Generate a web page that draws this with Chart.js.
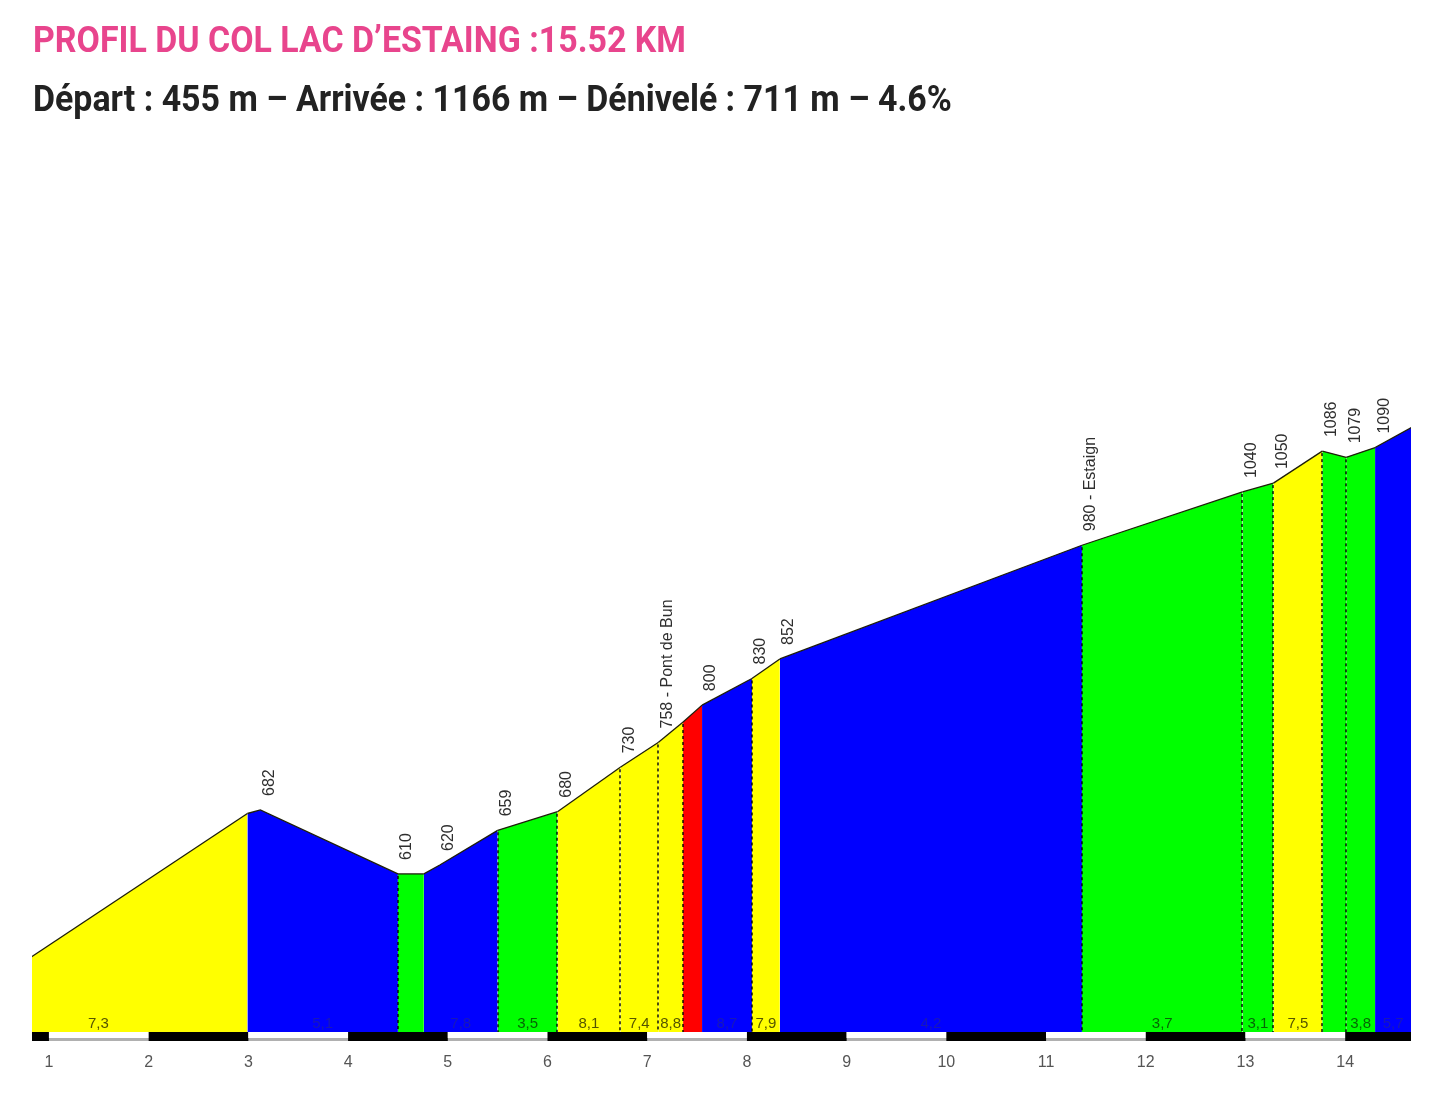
<!DOCTYPE html>
<html>
<head>
<meta charset="utf-8">
<script src="https://cdn.jsdelivr.net/npm/chart.js@4.4.1/dist/chart.umd.min.js"></script>
<style>
  html, body { margin: 0; padding: 0; background: #ffffff; }
  #wrap { position: relative; width: 1434px; height: 1101px; overflow: hidden; }
  .t { position: absolute; left: 33px; margin: 0; font-family: Roboto, "Noto Sans", sans-serif; font-weight: 700; font-size: 34px; line-height: 1; white-space: nowrap; transform-origin: 0 0; transform: scale(0.997, 1.06); }
  #title { top: 21px; color: #e8458d; }
  #sub { top: 80px; color: #222222; }
  canvas { position: absolute; left: 0; top: 0; }
</style>
</head>
<body>
<div id="wrap">
  <canvas id="c" width="1434" height="1101"></canvas>
  <div class="t" id="title">PROFIL DU COL LAC D’ESTAING :15.52 KM</div>
  <div class="t" id="sub">Départ : 455 m – Arrivée : 1166 m – Dénivelé : 711 m – 4.6%</div>
</div>
<script>
// ---- data ----
const kmPoints   = [0, 2.99, 3.12, 4.50, 4.76, 4.92, 5.50, 6.10, 6.73, 7.11, 7.36, 7.55, 8.05, 8.33, 11.36, 12.97, 13.28, 13.77, 14.01, 14.30, 15.52];
const elevPoints = [455, 678, 682, 610, 610, 620, 659, 680, 730, 758, 781, 800, 830, 852, 980, 1040, 1050, 1086, 1079, 1090, 1166];

// segments: start point index, end point index, colour, gradient label
const segStart  = [0, 1, 3, 4, 6, 7, 8, 9, 10, 11, 12, 13, 14, 15, 16, 17, 18, 19];
const segEnd    = [1, 3, 4, 6, 7, 8, 9, 10, 11, 12, 13, 14, 15, 16, 17, 18, 19, 20];
const segColor  = ['yellow','blue','green','blue','green','yellow','yellow','yellow','red','blue','yellow','blue','green','green','yellow','green','green','blue'];
const segGrade  = ['7,3','5,1','','7,8','3,5','8,1','7,4','8,8','','8,7','7,9','4,2','3,7','3,1','7,5','','3,8','5,7'];

// elevation annotations: point index and text
const labelIdx  = [2, 3, 5, 6, 7, 8, 9, 11, 12, 13, 14, 15, 16, 17, 18, 19];
const labelText = ['682','610','620','659','680','730','758 - Pont de Bun','800','830','852','980 - Estaign','1040','1050','1086','1079','1090'];

// dotted separators at these point indices
const dottedIdx = [3, 6, 7, 8, 9, 10, 12, 14, 15, 16, 17, 18];

// axis
const kmTicks = [1, 2, 3, 4, 5, 6, 7, 8, 9, 10, 11, 12, 13, 14];
const xMin = 0.83, xMax = 14.66;
const yMin = 432, yMax = 1425;

// ---- styles ----
const fillColors = { yellow: '#ffff00', blue: '#0000ff', green: '#00ff00', red: '#ff0000' };
const gradeTextColors = { yellow: '#555500', blue: '#1818b8', green: '#056605', red: '#900000' };

const datasets = segStart.map((s, i) => {
  const pts = [];
  for (let k = s; k <= segEnd[i]; k++) pts.push({ x: kmPoints[k], y: elevPoints[k] });
  return {
    data: pts,
    fill: { value: yMin },
    backgroundColor: fillColors[segColor[i]],
    borderColor: '#1e1e0a',
    borderWidth: 1.3,
    pointRadius: 0,
    tension: 0
  };
});

const decor = {
  id: 'decor',
  afterDatasetsDraw(chart) {
    const { ctx, chartArea } = chart;
    const xs = chart.scales.x, ys = chart.scales.y;
    const bottom = chartArea.bottom;

    // dotted separators
    ctx.save();
    ctx.beginPath();
    ctx.rect(chartArea.left, chartArea.top, chartArea.right - chartArea.left, chartArea.bottom - chartArea.top);
    ctx.clip();
    ctx.strokeStyle = 'rgba(0,0,0,0.7)';
    ctx.lineWidth = 2;
    ctx.setLineDash([3, 3]);
    dottedIdx.forEach(k => {
      const px = Math.round(xs.getPixelForValue(kmPoints[k]));
      const py = ys.getPixelForValue(elevPoints[k]);
      ctx.beginPath();
      ctx.moveTo(px, py + 2);
      ctx.lineTo(px, bottom);
      ctx.stroke();
    });
    ctx.setLineDash([]);

    // gradient labels
    ctx.font = '15px "Liberation Sans", Arial, sans-serif';
    ctx.textAlign = 'center';
    ctx.textBaseline = 'alphabetic';
    segStart.forEach((s, i) => {
      if (!segGrade[i]) return;
      const a = kmPoints[s], b = kmPoints[segEnd[i]];
      let mid = (a + b) / 2;
      if (mid > xMax - 0.1 || mid < xMin + 0.1) {
        mid = (Math.max(a, xMin) + Math.min(b, xMax)) / 2;
      }
      ctx.fillStyle = gradeTextColors[segColor[i]];
      ctx.fillText(segGrade[i], xs.getPixelForValue(mid), bottom - 4);
    });
    ctx.restore();

    // elevation labels (rotated)
    ctx.save();
    ctx.font = '16px "Liberation Sans", Arial, sans-serif';
    ctx.fillStyle = '#2e2e2e';
    ctx.textAlign = 'left';
    ctx.textBaseline = 'middle';
    labelIdx.forEach((k, i) => {
      const px = xs.getPixelForValue(kmPoints[k]) + 9;
      const py = ys.getPixelForValue(elevPoints[k]) - 14;
      ctx.save();
      ctx.translate(px, py);
      ctx.rotate(-Math.PI / 2);
      ctx.fillText(labelText[i], 0, 0);
      ctx.restore();
    });
    ctx.restore();

    // km band under the profile
    ctx.save();
    const left = chartArea.left, right = chartArea.right;
    ctx.fillStyle = '#b0b0b0';
    ctx.fillRect(left, bottom + 6, right - left, 3);
    for (let k = Math.floor(xMin); k < xMax; k++) {
      const a = Math.max(k, xMin), b = Math.min(k + 1, xMax);
      const pa = xs.getPixelForValue(a), pb = xs.getPixelForValue(b);
      if (k % 2 === 0) {
        ctx.fillStyle = '#000000';
        ctx.fillRect(pa, bottom, pb - pa, 9);
      } else {
        ctx.fillStyle = '#ffffff';
        ctx.fillRect(pa, bottom, pb - pa, 6);
      }
    }
    ctx.restore();
  }
};

new Chart(document.getElementById('c'), {
  type: 'line',
  data: { datasets },
  options: {
    responsive: false,
    animation: false,
    events: [],
    layout: { padding: { top: 150, left: 32, right: 23, bottom: 0 } },
    plugins: { legend: { display: false }, tooltip: { enabled: false } },
    scales: {
      x: {
        type: 'linear',
        min: xMin,
        max: xMax,
        afterBuildTicks: s => { s.ticks = kmTicks.map(v => ({ value: v })); },
        afterFit: s => { s.height = 69; },
        grid: { display: false, drawTicks: false },
        border: { display: false },
        ticks: {
          color: '#555555',
          font: { family: '"Liberation Sans", Arial, sans-serif', size: 16 },
          padding: 21,
          maxRotation: 0,
          autoSkip: false,
          callback: v => String(v)
        }
      },
      y: { display: false, min: yMin, max: yMax }
    }
  },
  plugins: [decor]
});
</script>
</body>
</html>
